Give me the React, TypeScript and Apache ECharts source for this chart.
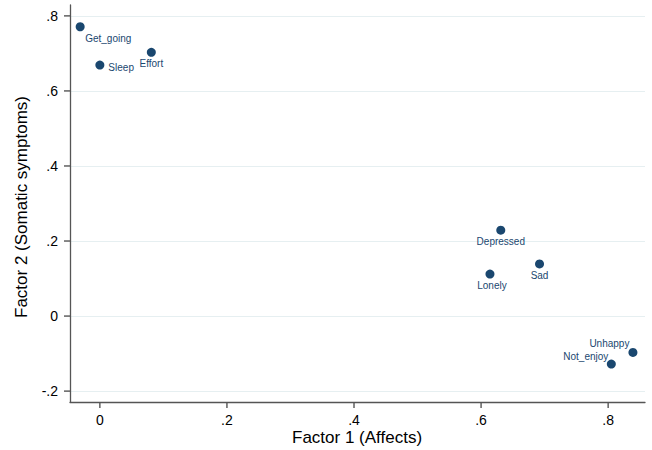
import React, { useEffect, useRef } from "react";
import * as echarts from "echarts";

const names = ["Get_going", "Sleep", "Effort", "Depressed", "Sad", "Lonely", "Unhappy", "Not_enjoy"];
const factor1 = [-0.031, 0.0, 0.081, 0.631, 0.692, 0.614, 0.839, 0.805];
const factor2 = [0.771, 0.669, 0.703, 0.229, 0.139, 0.112, -0.097, -0.128];
const xTicks = [0, 0.2, 0.4, 0.6, 0.8];
const yTicks = [-0.2, 0, 0.2, 0.4, 0.6, 0.8];
const xTitle = "Factor 1 (Affects)";
const yTitle = "Factor 2 (Somatic symptoms)";
const xMin = -0.047;
const xMax = 0.858;
const yMin = -0.229;
const yMax = 0.829;

const labelPlace: Record<string, any> = {
  Get_going: { position: "right", distance: 5, offset: [-4.5, 11.5] },
  Sleep: { position: "right", distance: 5, offset: [-1, 2] },
  Effort: { position: "bottom", distance: 2, offset: [0, 0] },
  Depressed: { position: "bottom", distance: 2, offset: [0, 0] },
  Sad: { position: "bottom", distance: 2, offset: [0, 0] },
  Lonely: { position: "bottom", distance: 2, offset: [2, 0] },
  Unhappy: { position: "left", distance: 0, offset: [1, -9] },
  Not_enjoy: { position: "left", distance: 0, offset: [1.5, -8] },
};

const fmt = (v: number) => {
  const r = Math.round(v * 10) / 10;
  if (r === 0) return "0";
  return String(r).replace("0.", ".");
};

const NAVY = "#1a476f";
const AXIS = "#555555";
const FONT = "'Liberation Sans', Arial, Helvetica, sans-serif";
const TICK_LEN = 6;

export default function App() {
  const ref = useRef<HTMLDivElement>(null);
  useEffect(() => {
    if (!ref.current) return;
    const chart = echarts.init(ref.current, undefined, { renderer: "svg" });
    const data = names.map((n, i) => ({
      name: n,
      value: [factor1[i], factor2[i]],
      label: { show: true, formatter: n, ...labelPlace[n] },
    }));
    const titles = [
      {
        type: "text",
        left: 292,
        top: 429,
        style: { text: xTitle, fontSize: 17, fill: "#000", fontFamily: FONT },
      },
      {
        type: "text",
        x: 13,
        y: 318,
        rotation: Math.PI / 2,
        style: { text: yTitle, fontSize: 17, fill: "#000", fontFamily: FONT, textVerticalAlign: "top" },
      },
    ];
    chart.setOption({
      animation: false,
      backgroundColor: "#ffffff",
      textStyle: { fontFamily: FONT },
      grid: { left: 70, right: 7, top: 5, bottom: 48, containLabel: false },
      xAxis: {
        type: "value",
        min: xMin,
        max: xMax,
        axisLine: { show: true, onZero: false, lineStyle: { color: AXIS, width: 1.3 } },
        axisTick: { show: false },
        axisLabel: { customValues: xTicks, formatter: fmt, color: "#000", fontSize: 14, margin: 11, fontFamily: FONT },
        splitLine: { show: false },
      },
      yAxis: {
        type: "value",
        min: yMin,
        max: yMax,
        axisLine: { show: true, onZero: false, lineStyle: { color: AXIS, width: 1.3 } },
        axisTick: { show: false, customValues: yTicks },
        axisLabel: { customValues: yTicks, formatter: fmt, color: "#000", fontSize: 14, margin: 12, fontFamily: FONT },
        splitLine: { show: true, lineStyle: { color: "#e6eff1", width: 1 } },
      },
      graphic: titles,
      series: [
        {
          type: "scatter",
          symbol: "circle",
          symbolSize: 9,
          itemStyle: { color: NAVY, opacity: 1 },
          label: { color: NAVY, fontSize: 10, fontFamily: FONT },
          data,
        },
      ],
    });
    // axis tick marks, placed through the library's own scales
    const ticks: any[] = [];
    const base = chart.convertToPixel({ gridIndex: 0 }, [xMin, yMin]) as number[];
    const xBase = base[0];
    const yBase = base[1];
    xTicks.forEach((v) => {
      const p = chart.convertToPixel({ gridIndex: 0 }, [v, yMin]) as number[];
      ticks.push({
        type: "line",
        z: 100,
        silent: true,
        shape: { x1: p[0], y1: yBase, x2: p[0], y2: yBase + TICK_LEN },
        style: { stroke: AXIS, lineWidth: 1.4 },
      });
    });
    yTicks.forEach((v) => {
      const p = chart.convertToPixel({ gridIndex: 0 }, [xMin, v]) as number[];
      ticks.push({
        type: "line",
        z: 100,
        silent: true,
        shape: { x1: xBase - TICK_LEN, y1: p[1], x2: xBase, y2: p[1] },
        style: { stroke: AXIS, lineWidth: 1.4 },
      });
    });
    chart.setOption({ graphic: [...titles, ...ticks] });
    return () => chart.dispose();
  }, []);
  return <div ref={ref} style={{ position: "absolute", left: 0, top: 0, width: 652, height: 450 }} />;
}
